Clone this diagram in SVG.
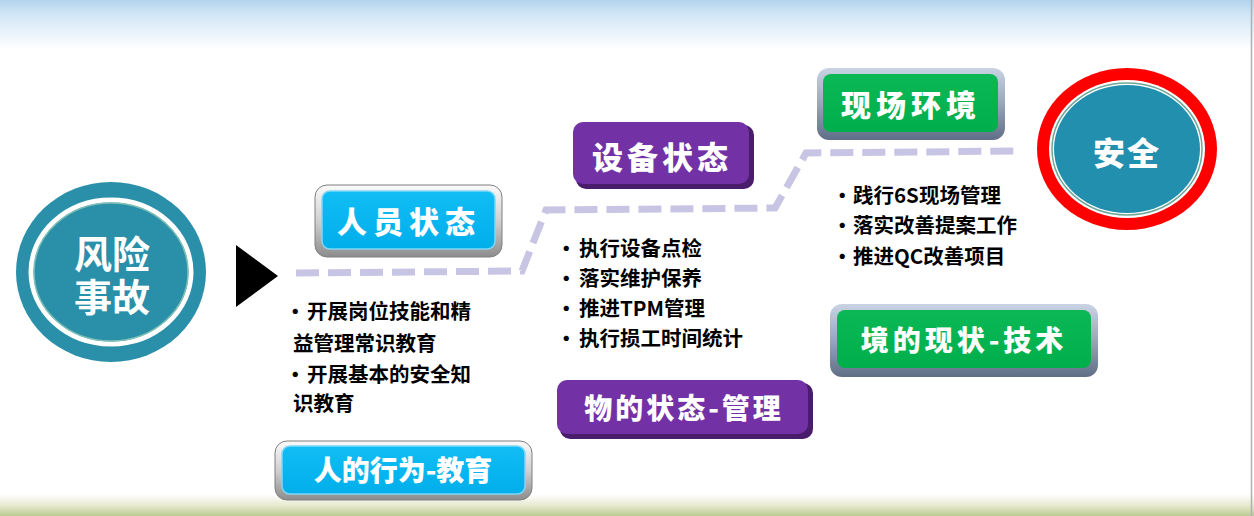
<svg xmlns="http://www.w3.org/2000/svg" width="1254" height="516" viewBox="0 0 1254 516">
<defs>
<linearGradient id="sky" x1="0" y1="0" x2="0" y2="1">
<stop offset="0" stop-color="#B2D3EE"/>
<stop offset="0.3" stop-color="#D3E7F6"/>
<stop offset="1" stop-color="#FFFFFF"/>
</linearGradient>
<linearGradient id="grass" x1="0" y1="0" x2="0" y2="1">
<stop offset="0" stop-color="#FFFFFF"/>
<stop offset="0.5" stop-color="#E8EAD2"/>
<stop offset="1" stop-color="#BCCB92"/>
</linearGradient>
<linearGradient id="grayFrame" x1="0" y1="0" x2="0" y2="1">
<stop offset="0" stop-color="#FAFAFA"/>
<stop offset="0.5" stop-color="#D0D0D0"/>
<stop offset="1" stop-color="#8C8C8C"/>
</linearGradient>
<linearGradient id="blueFrame" x1="0" y1="0" x2="0" y2="1">
<stop offset="0" stop-color="#C9D3E3"/>
<stop offset="0.5" stop-color="#98A6BC"/>
<stop offset="1" stop-color="#5F6E86"/>
</linearGradient>
<linearGradient id="cyanFill" x1="0" y1="0" x2="0" y2="1">
<stop offset="0" stop-color="#12BDF4"/>
<stop offset="1" stop-color="#00AEEA"/>
</linearGradient>
<linearGradient id="greenFill" x1="0" y1="0" x2="0" y2="1">
<stop offset="0" stop-color="#0CB856"/>
<stop offset="1" stop-color="#00AE4C"/>
</linearGradient>
</defs>
<style>
.lbl{font-family:"Noto Sans CJK SC","Noto Sans CJK JP",sans-serif;font-weight:900;fill:#FFFFFF;text-anchor:middle;dominant-baseline:central}
.txt{font-family:"Noto Sans CJK SC","Noto Sans CJK JP",sans-serif;font-weight:700;fill:#000000;font-size:20.5px;dominant-baseline:central}
.cyanOuter{fill:url(#grayFrame);stroke:#7F7F7F;stroke-width:1}
.cyanInner{fill:url(#cyanFill);stroke:#7FD8F6;stroke-width:1.5}
.greenOuter{fill:url(#blueFrame)}
.greenInner{fill:url(#greenFill)}
.purpleShadow{fill:#4A1C6C}
.purpleFill{fill:#7232A6}
.dash{fill:none;stroke:#C7C5E3;stroke-width:7;stroke-dasharray:23 9}
</style>
<rect x="0" y="0" width="1254" height="516" fill="#FFFFFF"/>
<rect x="0" y="0" width="1254" height="50" fill="url(#sky)"/>
<rect x="0" y="494" width="1254" height="22" fill="url(#grass)"/>
<line x1="1251.5" y1="0" x2="1251.5" y2="516" stroke="#B0B0B0" stroke-width="1.5"/>

<g id="connectors">
<path class="dash" d="M296,273 L522,271 L546,210 L775,208 L806,153 L1020,151"/>
<polygon points="236,245 278,276 236,307" fill="#000000"/>
</g>

<g id="risk">
<ellipse cx="111" cy="272" rx="95" ry="90" fill="#2A8FA9"/>
<ellipse cx="111" cy="272" rx="80" ry="72" fill="none" stroke="#FFFFFF" stroke-width="5"/>
<ellipse cx="111" cy="272" rx="77" ry="69" fill="none" stroke="#7FC0B4" stroke-width="1.5"/>
<text class="lbl" font-size="38" style="font-weight:700"><tspan x="112" y="251">风险</tspan><tspan x="112" y="294">事故</tspan></text>
</g>

<g id="person-state">
<rect class="cyanOuter" x="315" y="185" width="187" height="72" rx="12"/>
<rect class="cyanInner" x="322" y="191" width="173" height="58" rx="8"/>
<text class="lbl" x="409" y="220" font-size="30" letter-spacing="6">人员状态</text>
</g>

<g id="person-text">
<text class="txt" x="285" y="310">•<tspan x="307">开展岗位技能和精</tspan></text>
<text class="txt" x="293" y="342">益管理常识教育</text>
<text class="txt" x="285" y="373">•<tspan x="307">开展基本的安全知</tspan></text>
<text class="txt" x="293" y="402">识教育</text>
</g>

<g id="person-behavior">
<rect class="cyanOuter" x="275" y="441" width="257" height="59" rx="12"/>
<rect class="cyanInner" x="282" y="446" width="243" height="48" rx="8"/>
<text class="lbl" x="403" y="469" font-size="28">人的行为-教育</text>
</g>

<g id="equip-state">
<rect class="purpleShadow" x="576" y="125" width="178" height="64" rx="10"/>
<rect class="purpleFill" x="573" y="122" width="176" height="62" rx="10"/>
<text class="lbl" x="662" y="155" font-size="31" letter-spacing="4">设备状态</text>
</g>

<g id="equip-text">
<text class="txt" x="556" y="247">•<tspan x="579">执行设备点检</tspan></text>
<text class="txt" x="556" y="277">•<tspan x="579">落实维护保养</tspan></text>
<text class="txt" x="556" y="307">•<tspan x="579">推进TPM管理</tspan></text>
<text class="txt" x="556" y="337">•<tspan x="579">执行损工时间统计</tspan></text>
</g>

<g id="thing-state">
<rect class="purpleShadow" x="560" y="383" width="253" height="56" rx="10"/>
<rect class="purpleFill" x="557" y="380" width="251" height="54" rx="10"/>
<text class="lbl" x="684" y="407" font-size="28" letter-spacing="3">物的状态-管理</text>
</g>

<g id="site-env">
<rect class="greenOuter" x="817" y="68" width="188" height="72" rx="12"/>
<rect class="greenInner" x="823" y="74" width="175" height="58" rx="8"/>
<text class="lbl" x="911" y="103" font-size="30" letter-spacing="5">现场环境</text>
</g>

<g id="site-text">
<text class="txt" x="832" y="194">•<tspan x="853">践行6S现场管理</tspan></text>
<text class="txt" x="832" y="224">•<tspan x="853">落实改善提案工作</tspan></text>
<text class="txt" x="832" y="255">•<tspan x="853">推进QC改善项目</tspan></text>
</g>

<g id="env-tech">
<rect class="greenOuter" x="830" y="304" width="268" height="73" rx="12"/>
<rect class="greenInner" x="837" y="310" width="254" height="58" rx="8"/>
<text class="lbl" x="964" y="339" font-size="28" letter-spacing="4">境的现状-技术</text>
</g>

<g id="safety">
<ellipse cx="1127" cy="149" rx="90" ry="81" fill="#FF0000"/>
<ellipse cx="1127" cy="149" rx="78" ry="69" fill="#FFFFFF"/>
<ellipse cx="1127" cy="149" rx="75" ry="66" fill="none" stroke="#6FA79A" stroke-width="1.5"/>
<ellipse cx="1127" cy="149" rx="73" ry="64" fill="#238FAE"/>
<text class="lbl" x="1127" y="151" font-size="32" letter-spacing="2">安全</text>
</g>
</svg>
